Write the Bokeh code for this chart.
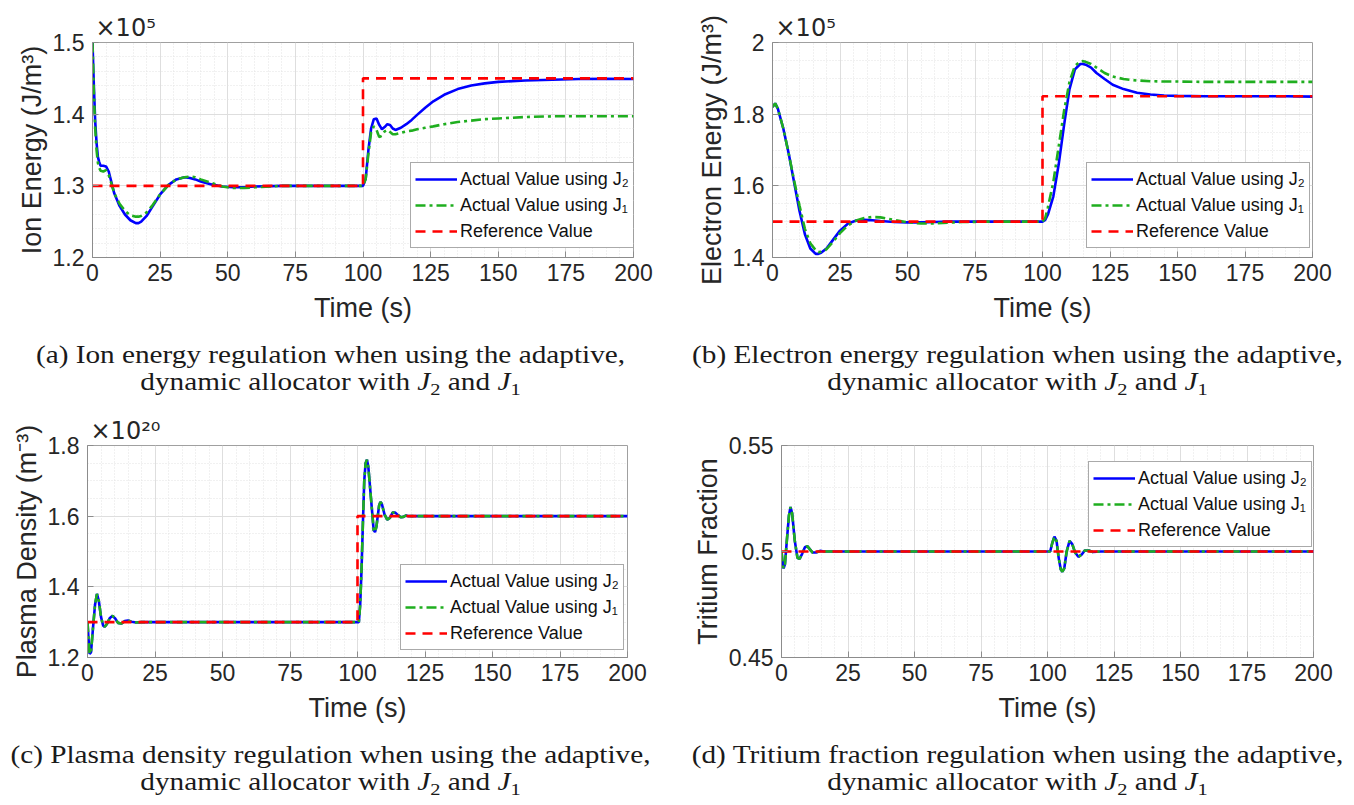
from bokeh.plotting import figure
from bokeh.models import (Range1d, FixedTicker, Legend, LegendItem, Div)
from bokeh.layouts import column, row
from bokeh.embed import file_html
from bokeh.resources import INLINE

# ---------------- data ----------------
x_ticks = [0, 25, 50, 75, 100, 125, 150, 175, 200]
x_minor = list(range(0, 201, 5))

# (a) Ion energy, units of 1e5 J/m^3
ion_t = [0, 0.5, 1, 1.5, 2, 2.5, 3, 4, 5, 6, 7, 8, 10, 12, 14, 16, 17, 18, 20, 22, 25, 28, 31, 34, 36, 38, 40,
         44, 48, 52, 56, 60, 70, 80, 90, 99, 100, 101, 102, 103, 104, 105, 106, 107, 108, 109, 110, 111, 112,
         114, 116, 118, 120, 123, 126, 130, 135, 140, 145, 150, 160, 170, 180, 190, 200]
ion_j2 = [1.50, 1.44, 1.39, 1.36, 1.34, 1.333, 1.328, 1.328, 1.327, 1.32, 1.305, 1.29, 1.272, 1.26, 1.252, 1.248,
          1.248, 1.25, 1.258, 1.27, 1.288, 1.301, 1.309, 1.312, 1.311, 1.309, 1.306, 1.302, 1.299, 1.298, 1.298,
          1.299, 1.300, 1.300, 1.300, 1.300, 1.300, 1.31, 1.35, 1.38, 1.393, 1.394, 1.385, 1.379, 1.382, 1.386,
          1.385, 1.38, 1.378, 1.381, 1.386, 1.392, 1.399, 1.409, 1.418, 1.427, 1.435, 1.44, 1.443, 1.445, 1.447,
          1.448, 1.449, 1.4495, 1.449]
ion_j1 = [1.50, 1.43, 1.38, 1.35, 1.332, 1.325, 1.321, 1.32, 1.322, 1.315, 1.303, 1.29, 1.275, 1.265, 1.259, 1.257,
          1.257, 1.258, 1.263, 1.272, 1.288, 1.301, 1.309, 1.312, 1.313, 1.312, 1.309, 1.304, 1.299, 1.297, 1.297,
          1.298, 1.300, 1.300, 1.300, 1.300, 1.300, 1.31, 1.345, 1.375, 1.383, 1.378, 1.368, 1.37, 1.376, 1.378,
          1.375, 1.372, 1.372, 1.374, 1.376, 1.377, 1.379, 1.381, 1.383, 1.386, 1.389, 1.391, 1.393, 1.394, 1.396,
          1.397, 1.397, 1.397, 1.397]
ion_ref_t = [0, 100, 100, 200]
ion_ref = [1.30, 1.30, 1.45, 1.45]

# (b) Electron energy, units of 1e5 J/m^3
ele_t = [0, 1, 2, 4, 6, 8, 10, 12, 14, 16, 17, 18, 20, 22, 25, 28, 31, 34, 37, 40, 45, 50, 55, 60, 65, 70, 80, 90,
         100, 101, 102, 104, 106, 108, 110, 112, 114, 115, 116, 118, 120, 123, 126, 130, 135, 140, 145, 150, 160,
         170, 180, 190, 200]
ele_j2 = [1.82, 1.83, 1.815, 1.76, 1.69, 1.61, 1.53, 1.465, 1.425, 1.41, 1.41, 1.413, 1.425, 1.445, 1.475, 1.495,
          1.503, 1.505, 1.504, 1.502, 1.499, 1.498, 1.498, 1.499, 1.50, 1.50, 1.50, 1.50, 1.50, 1.505, 1.52, 1.57,
          1.66, 1.77, 1.87, 1.925, 1.94, 1.94, 1.938, 1.93, 1.915, 1.898, 1.882, 1.87, 1.86, 1.855, 1.852, 1.851,
          1.85, 1.85, 1.85, 1.85, 1.849]
ele_j1 = [1.82, 1.83, 1.815, 1.76, 1.69, 1.615, 1.545, 1.48, 1.44, 1.42, 1.415, 1.416, 1.423, 1.44, 1.468, 1.49,
          1.503, 1.51, 1.513, 1.512, 1.505, 1.498, 1.495, 1.495, 1.497, 1.499, 1.50, 1.50, 1.50, 1.51, 1.54, 1.61,
          1.71, 1.81, 1.89, 1.935, 1.947, 1.948, 1.946, 1.94, 1.93, 1.915, 1.905, 1.898, 1.894, 1.892, 1.891, 1.891,
          1.89, 1.89, 1.89, 1.89, 1.89]
ele_ref_t = [0, 100, 100, 200]
ele_ref = [1.50, 1.50, 1.85, 1.85]

# (c) Plasma density, units of 1e20 m^-3
den_t = [0, 0.4, 0.8, 1.3, 2, 2.8, 3.5, 4.2, 5, 5.8, 6.4, 7.2, 8.3, 9.3, 10.3, 11.3, 12.5, 13.8, 15, 16.3, 18, 20,
         40, 60, 80, 100, 100.5, 101, 101.5, 102, 102.5, 103, 103.5, 104, 105, 106, 106.5, 107, 108, 108.5, 109,
         110, 111, 112, 113, 114, 115, 116, 117, 118, 119, 120, 150, 200]
den_j2 = [1.30, 1.25, 1.21, 1.215, 1.28, 1.35, 1.38, 1.36, 1.315, 1.29, 1.287, 1.295, 1.312, 1.318, 1.31, 1.298,
          1.296, 1.303, 1.305, 1.301, 1.299, 1.30, 1.30, 1.30, 1.30, 1.30, 1.30, 1.35, 1.45, 1.58, 1.70, 1.75,
          1.76, 1.74, 1.65, 1.56, 1.555, 1.57, 1.63, 1.64, 1.635, 1.605, 1.59, 1.595, 1.61, 1.61, 1.603, 1.597,
          1.598, 1.602, 1.60, 1.60, 1.60, 1.60]
den_j1 = [1.30, 1.25, 1.21, 1.215, 1.28, 1.35, 1.38, 1.36, 1.315, 1.29, 1.287, 1.295, 1.312, 1.318, 1.31, 1.298,
          1.296, 1.303, 1.305, 1.301, 1.299, 1.30, 1.30, 1.30, 1.30, 1.30, 1.30, 1.35, 1.45, 1.58, 1.70, 1.75,
          1.76, 1.74, 1.65, 1.56, 1.555, 1.57, 1.63, 1.64, 1.635, 1.605, 1.59, 1.595, 1.61, 1.61, 1.603, 1.597,
          1.598, 1.602, 1.60, 1.60, 1.60, 1.60]
den_ref_t = [0, 100, 100, 200]
den_ref = [1.30, 1.30, 1.60, 1.60]

# (d) Tritium fraction
tri_t = [0, 0.4, 0.8, 1.3, 2, 2.8, 3.4, 4, 5, 6, 6.8, 7.8, 8.8, 9.7, 10.7, 11.7, 13, 14.5, 16, 20, 60, 100, 101,
         101.8, 102.6, 103.4, 104.2, 105, 105.6, 106.3, 107.2, 108.3, 109.3, 110.4, 111.6, 112.8, 114, 115.5, 117,
         120, 160, 200]
tri_j2 = [0.50, 0.495, 0.492, 0.494, 0.505, 0.517, 0.521, 0.518, 0.505, 0.497, 0.4965, 0.499, 0.502, 0.5025, 0.501,
          0.4995, 0.4995, 0.5003, 0.50, 0.50, 0.50, 0.50, 0.50, 0.504, 0.507, 0.505, 0.497, 0.4915, 0.4905, 0.492,
          0.50, 0.505, 0.5035, 0.4995, 0.4975, 0.4985, 0.5005, 0.5005, 0.4998, 0.50, 0.50, 0.50]
tri_j1 = [0.50, 0.495, 0.492, 0.494, 0.505, 0.517, 0.521, 0.518, 0.505, 0.497, 0.4965, 0.499, 0.502, 0.5025, 0.501,
          0.4995, 0.4995, 0.5003, 0.50, 0.50, 0.50, 0.50, 0.50, 0.504, 0.507, 0.505, 0.497, 0.4915, 0.4905, 0.492,
          0.50, 0.505, 0.5035, 0.4995, 0.4975, 0.4985, 0.5005, 0.5005, 0.4998, 0.50, 0.50, 0.50]
tri_ref_t = [0, 100, 100, 200]
tri_ref = [0.50, 0.50, 0.50, 0.50]

legend_labels = ["Actual Value using J\u2082", "Actual Value using J\u2081", "Reference Value"]
captions = [
    ("(a) Ion energy regulation when using the adaptive,", "dynamic allocator with"),
    ("(b) Electron energy regulation when using the adaptive,", "dynamic allocator with"),
    ("(c) Plasma density regulation when using the adaptive,", "dynamic allocator with"),
    ("(d) Tritium fraction regulation when using the adaptive,", "dynamic allocator with"),
]

SANS = "Liberation Sans"
BLUE = "#0000ff"
GREEN = "#1fae1f"
RED = "#ff0000"
AXC = "#8c8c8c"
TXT = "#262626"


def make_panel(t, j2, j1, rt, rv, ylabel, yr, yticks, yminor, ylabels, exponent, borders, legend_xy):
    left, right, top, bottom = borders
    p = figure(width=677, height=335, output_backend="svg", toolbar_location=None,
               x_range=Range1d(0, 200), y_range=Range1d(*yr),
               min_border_left=left, min_border_right=right, min_border_top=top, min_border_bottom=bottom)
    p.margin = 0
    p.background_fill_color = "white"
    p.border_fill_color = "white"
    p.outline_line_color = "#a0a0a0"
    p.xaxis.ticker = FixedTicker(ticks=x_ticks, minor_ticks=x_minor)
    p.yaxis.ticker = FixedTicker(ticks=yticks, minor_ticks=yminor)
    p.yaxis.major_label_overrides = dict(zip(yticks, ylabels))
    for ax in (p.xaxis[0], p.yaxis[0]):
        ax.axis_line_color = AXC
        ax.major_tick_line_color = AXC
        ax.minor_tick_line_color = AXC
        ax.major_tick_in = 6
        ax.major_tick_out = 0
        ax.minor_tick_in = 0
        ax.minor_tick_out = 0
        ax.major_label_text_font = SANS
        ax.major_label_text_font_size = "23px"
        ax.major_label_text_color = TXT
        ax.axis_label_text_font = SANS
        ax.axis_label_text_font_size = "27px"
        ax.axis_label_text_font_style = "normal"
        ax.axis_label_text_color = TXT
    p.xaxis.axis_label = "Time (s)"
    p.yaxis.axis_label = ylabel
    p.xaxis.major_label_standoff = 6
    p.xaxis.axis_label_standoff = 9
    p.yaxis.major_label_standoff = 8
    p.yaxis.axis_label_standoff = 3
    for g in (p.xgrid[0], p.ygrid[0]):
        g.grid_line_color = "#dedede"
        g.grid_line_width = 1
        g.minor_grid_line_color = "#e3e3e3"
        g.minor_grid_line_dash = "1 2"
        g.minor_grid_line_width = 1

    r2 = p.line(t, j2, line_color=BLUE, line_width=2.6)
    r1 = p.line(t, j1, line_color=GREEN, line_width=2.6, line_dash="10 4 3 4")
    rr = p.line(rt, rv, line_color=RED, line_width=2.6, line_dash="10 7")

    leg = Legend(items=[LegendItem(label=legend_labels[0], renderers=[r2]),
                        LegendItem(label=legend_labels[1], renderers=[r1]),
                        LegendItem(label=legend_labels[2], renderers=[rr])],
                 location=legend_xy, orientation="vertical")
    leg.label_text_font = SANS
    leg.label_text_font_size = "18px"
    leg.label_text_color = "#111111"
    leg.glyph_width = 42
    leg.glyph_height = 24
    leg.label_height = 24
    leg.label_standoff = 3
    leg.spacing = 2
    leg.padding = 4
    leg.margin = 0
    leg.border_line_color = "#555555"
    leg.border_line_width = 1
    leg.background_fill_alpha = 1
    p.add_layout(leg, "center")

    p.title.text = ("\u00d710" + exponent) if exponent is not None else ""
    p.title.align = "left"
    p.title.offset = 3
    p.title.standoff = 2
    p.title.text_font = "DejaVu Sans"
    p.title.text_font_size = "24px"
    p.title.text_font_style = "normal"
    p.title.text_color = TXT
    return p


pa = make_panel(ion_t, ion_j2, ion_j1, ion_ref_t, ion_ref, "Ion Energy (J/m\u00b3)", (1.2, 1.5),
                [1.2, 1.3, 1.4, 1.5], [round(1.2 + 0.02 * i, 2) for i in range(16)],
                ["1.2", "1.3", "1.4", "1.5"], "\u2075", (92, 44, 42, 78), (318, 9))
pb = make_panel(ele_t, ele_j2, ele_j1, ele_ref_t, ele_ref, "Electron Energy (J/m\u00b3)", (1.4, 2.0),
                [1.4, 1.6, 1.8, 2.0], [round(1.4 + 0.05 * i, 2) for i in range(13)],
                ["1.4", "1.6", "1.8", "2"], "\u2075", (95, 42, 42, 78), (314, 9))
pc = make_panel(den_t, den_j2, den_j1, den_ref_t, den_ref, "Plasma Density (m\u207b\u00b3)", (1.2, 1.8),
                [1.2, 1.4, 1.6, 1.8], [round(1.2 + 0.05 * i, 2) for i in range(13)],
                ["1.2", "1.4", "1.6", "1.8"], "\u00b2\u2070", (87, 50, 43, 78), (313, 7))
pd_ = make_panel(tri_t, tri_j2, tri_j1, tri_ref_t, tri_ref, "Tritium Fraction", (0.45, 0.55),
                 [0.45, 0.5, 0.55], [round(0.45 + 0.01 * i, 2) for i in range(11)],
                 ["0.45", "0.5", "0.55"], None, (104, 41, 45, 77), (307, 110))


def caption(i, h, pad, shift):
    l1, l2 = captions[i]
    sub = '<sub style="font-size:70%;line-height:0;vertical-align:-0.3em">'
    html = ('<div style="width:677px;font-family:\'Liberation Serif\',serif;font-size:25px;line-height:27px;'
            'text-align:center;color:#1a1a1a;padding-top:%dpx;transform:translateX(%dpx) scaleX(1.17);'
            'transform-origin:center top;white-space:nowrap;">%s<br>%s <i>J</i>%s2</sub> and <i>J</i>%s1</sub></div>'
            ) % (pad, shift, l1, l2, sub, sub)
    return Div(text=html, width=677, height=h, margin=0)


layout = column(row(pa, pb, spacing=0), row(caption(0, 65, 6, -8), caption(1, 65, 6, 2), spacing=0),
                row(pc, pd_, spacing=0), row(caption(2, 70, 6, -8), caption(3, 70, 6, 2), spacing=0), spacing=0)

open("out.html", "w").write(file_html(layout, INLINE))
